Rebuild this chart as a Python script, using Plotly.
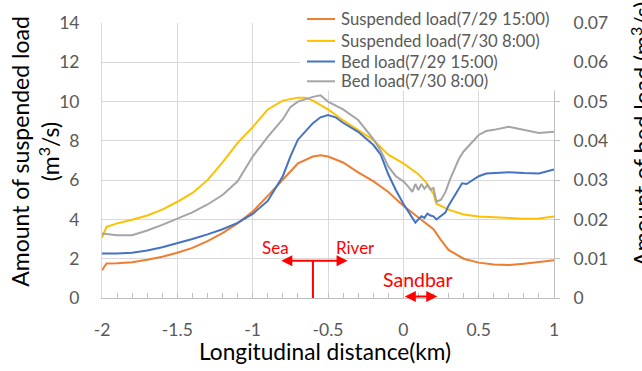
import plotly.graph_objects as go

# ---------------- data ----------------
x_orange = [-2.0, -1.97, -1.9, -1.8, -1.7, -1.6, -1.5, -1.4, -1.3, -1.2, -1.1, -1.0, -0.9, -0.8,
            -0.7, -0.6, -0.55, -0.5, -0.4, -0.3, -0.2, -0.1, 0.0, 0.1, 0.2, 0.25, 0.3, 0.4, 0.5,
            0.6, 0.7, 0.8, 0.9, 1.0]
susp_0729 = [1.41, 1.76, 1.77, 1.82, 1.95, 2.1, 2.3, 2.55, 2.9, 3.3, 3.8, 4.4, 5.2, 6.05,
             6.85, 7.2, 7.27, 7.2, 6.9, 6.4, 5.95, 5.4, 4.7, 4.1, 3.5, 2.95, 2.45, 2.0, 1.8,
             1.7, 1.68, 1.75, 1.85, 1.92]

x_yellow = [-2.0, -1.97, -1.9, -1.8, -1.7, -1.6, -1.5, -1.4, -1.3, -1.2, -1.1, -1.0, -0.9, -0.8,
            -0.7, -0.65, -0.6, -0.5, -0.4, -0.3, -0.2, -0.1, 0.0, 0.1, 0.15, 0.2, 0.22, 0.3, 0.4,
            0.5, 0.6, 0.7, 0.8, 0.9, 1.0]
susp_0730 = [3.07, 3.62, 3.8, 3.98, 4.2, 4.5, 4.9, 5.35, 6.0, 6.9, 7.9, 8.7, 9.6, 10.05,
             10.2, 10.2, 10.05, 9.6, 9.05, 8.55, 8.05, 7.3, 6.85, 6.3, 5.9, 5.3, 4.8, 4.5, 4.25,
             4.15, 4.1, 4.07, 4.03, 4.05, 4.15]

x_blue = [-2.0, -1.9, -1.8, -1.7, -1.6, -1.5, -1.4, -1.3, -1.2, -1.1, -1.0, -0.9, -0.8, -0.75,
          -0.7, -0.6, -0.55, -0.5, -0.45, -0.4, -0.3, -0.2, -0.15, -0.1, -0.05, 0.0, 0.05, 0.08,
          0.1, 0.12, 0.14, 0.16, 0.18, 0.2, 0.22, 0.25, 0.28, 0.3, 0.33, 0.36, 0.39, 0.42, 0.45,
          0.5, 0.55, 0.6, 0.7, 0.8, 0.9, 1.0]
bed_0729 = [0.0113, 0.0113, 0.0115, 0.0121, 0.0129, 0.0139, 0.0150, 0.0162, 0.0175, 0.0191,
            0.0214, 0.0247, 0.0310, 0.0360, 0.0403, 0.0445, 0.0460, 0.0466, 0.0460, 0.0446,
            0.0423, 0.0390, 0.0365, 0.0315, 0.0275, 0.0240, 0.0210, 0.0192, 0.0200, 0.0208,
            0.0204, 0.0215, 0.0210, 0.0208, 0.0200, 0.0210, 0.0218, 0.0235, 0.0255, 0.0275,
            0.0292, 0.0290, 0.0298, 0.0310, 0.0317, 0.0318, 0.0320, 0.0318, 0.0317, 0.0327]

x_gray = [-2.0, -1.9, -1.8, -1.7, -1.6, -1.5, -1.4, -1.3, -1.2, -1.1, -1.0, -0.9, -0.8, -0.75,
          -0.7, -0.6, -0.55, -0.5, -0.4, -0.3, -0.2, -0.15, -0.1, -0.05, 0.0, 0.03, 0.06, 0.08,
          0.1, 0.12, 0.14, 0.16, 0.18, 0.2, 0.22, 0.25, 0.28, 0.31, 0.34, 0.37, 0.4, 0.45, 0.5,
          0.55, 0.6, 0.7, 0.8, 0.9, 1.0]
bed_0730 = [0.0164, 0.0160, 0.0160, 0.0172, 0.0186, 0.0201, 0.0218, 0.0238, 0.0262, 0.0297,
            0.0360, 0.0410, 0.0455, 0.0486, 0.0500, 0.0512, 0.0516, 0.0500, 0.0480, 0.0453,
            0.0405, 0.0375, 0.0335, 0.0310, 0.0297, 0.0285, 0.0270, 0.0290, 0.0275, 0.0290,
            0.0278, 0.0288, 0.0276, 0.0280, 0.0245, 0.0250, 0.0270, 0.0302, 0.0330, 0.0355,
            0.0373, 0.0395, 0.0415, 0.0425, 0.0428, 0.0436, 0.0428, 0.0420, 0.0423]

names = ["Suspended load(7/29 15:00)", "Suspended load(7/30 8:00)",
         "Bed load(7/29 15:00)", "Bed load(7/30 8:00)"]
colors = ["#ED7D31", "#FFC000", "#4472C4", "#A5A5A5"]

left_ticks = [0, 2, 4, 6, 8, 10, 12, 14]
right_ticks = [0, 0.01, 0.02, 0.03, 0.04, 0.05, 0.06, 0.07]
right_labels = ["0", "0.01", "0.02", "0.03", "0.04", "0.05", "0.06", "0.07"]
x_ticks = [-2, -1.5, -1, -0.5, 0, 0.5, 1]
x_labels = ["-2", "-1.5", "-1", "-0.5", "0", "0.5", "1"]

FONT = "Lato"
TICKC = "#595959"

fig = go.Figure()
fig.add_trace(go.Scatter(x=x_orange, y=susp_0729, name=names[0], mode="lines",
                         line=dict(color=colors[0], width=2)))
fig.add_trace(go.Scatter(x=x_yellow, y=susp_0730, name=names[1], mode="lines",
                         line=dict(color=colors[1], width=2)))
fig.add_trace(go.Scatter(x=x_blue, y=bed_0729, name=names[2], mode="lines", yaxis="y2",
                         line=dict(color=colors[2], width=2)))
fig.add_trace(go.Scatter(x=x_gray, y=bed_0730, name=names[3], mode="lines", yaxis="y2",
                         line=dict(color=colors[3], width=2)))

RED = "#FF0000"
# markers of sea/river boundary
fig.add_shape(type="line", x0=-0.6, x1=-0.6, y0=0, y1=1.9, xref="x", yref="y",
              line=dict(color=RED, width=2))
fig.add_annotation(x=-0.37, y=1.9, ax=-0.82, ay=1.9, xref="x", yref="y", axref="x", ayref="y",
                   showarrow=True, arrowhead=2, arrowside="end+start", arrowsize=1.1,
                   arrowwidth=2, arrowcolor=RED, text="")
fig.add_annotation(x=0.225, y=0.08, ax=0.0, ay=0.08, xref="x", yref="y", axref="x", ayref="y",
                   showarrow=True, arrowhead=2, arrowside="end+start", arrowsize=1.1,
                   arrowwidth=2, arrowcolor=RED, text="")
fig.add_annotation(x=-0.85, y=2.57, text="Sea", showarrow=False, xref="x", yref="y",
                   font=dict(family=FONT, size=17, color=RED))
fig.add_annotation(x=-0.32, y=2.57, text="River", showarrow=False, xref="x", yref="y",
                   font=dict(family=FONT, size=17, color=RED))
fig.add_annotation(x=0.1, y=0.96, text="Sandbar", showarrow=False, xref="x", yref="y",
                   font=dict(family=FONT, size=19.5, color=RED))
fig.add_annotation(x=-0.615, y=-0.45, text="-0.6", showarrow=False, xref="x", yref="y",
                   font=dict(family=FONT, size=16, color="#000000"))

# axis titles
fig.add_annotation(x=-0.148, y=0.532, xref="paper", yref="paper", showarrow=False,
                   text="Amount of suspended load<br>(m<sup>3</sup>/s)", textangle=-90,
                   xanchor="center", yanchor="middle",
                   font=dict(family=FONT, size=23, color="#000000"))
fig.add_annotation(x=1.193, y=0.594, xref="paper", yref="paper", showarrow=False,
                   text="Amount of bed load (m<sup>3</sup>/s)", textangle=-90,
                   xanchor="center", yanchor="middle",
                   font=dict(family=FONT, size=23, color="#000000"))
fig.add_annotation(x=0.493, y=-0.194, xref="paper", yref="paper", showarrow=False,
                   text="Longitudinal distance(km)", xanchor="center", yanchor="middle",
                   font=dict(family=FONT, size=22.7, color="#000000"))

# legend box (drawn manually for compact row spacing)
fig.add_shape(type="rect", xref="paper", yref="paper", x0=0.438, x1=1.018, y0=0.755, y1=1.08,
              fillcolor="white", line=dict(width=0), layer="above")
leg_rows = [1.0144, 0.935, 0.860, 0.788]
for nm, col, yy in zip(names, colors, leg_rows):
    fig.add_shape(type="line", xref="paper", yref="paper", x0=0.4535, x1=0.5155, y0=yy, y1=yy,
                  line=dict(color=col, width=2), layer="above")
    fig.add_annotation(x=0.5245, y=yy, xref="paper", yref="paper", showarrow=False, text=nm,
                       xanchor="left", yanchor="middle",
                       font=dict(family=FONT, size=16.7, color=TICKC))

fig.update_layout(
    width=642, height=371, autosize=False,
    margin=dict(l=102, r=88, t=20, b=73),
    paper_bgcolor="white", plot_bgcolor="white",
    showlegend=False,
    xaxis=dict(range=[-2, 1], tickvals=x_ticks, ticktext=x_labels, showgrid=True,
               gridcolor="#D9D9D9", gridwidth=1, zeroline=False, showline=True,
               linecolor="#BFBFBF", linewidth=1, ticks="inside", ticklen=5, tickcolor="#BFBFBF",
               minor=dict(dtick=0.1, ticks="inside", ticklen=5, tickcolor="#BFBFBF",
                          showgrid=False),
               tickfont=dict(family=FONT, size=17.5, color=TICKC), ticklabelstandoff=16),
    yaxis=dict(range=[0, 14], tickvals=left_ticks, showgrid=True, gridcolor="#D9D9D9",
               gridwidth=1, zeroline=False, showline=True, linecolor="#D9D9D9", linewidth=1,
               ticks="", tickfont=dict(family=FONT, size=17.5, color=TICKC),
               ticklabelstandoff=18),
    yaxis2=dict(range=[0, 0.07], tickvals=right_ticks, ticktext=right_labels, overlaying="y",
                side="right", showgrid=False, zeroline=False, showline=True,
                linecolor="#BFBFBF", linewidth=1, ticks="outside", ticklen=5,
                tickcolor="#BFBFBF", tickfont=dict(family=FONT, size=17.5, color=TICKC),
                ticklabelstandoff=10),
)

fig.write_html("out.html")
